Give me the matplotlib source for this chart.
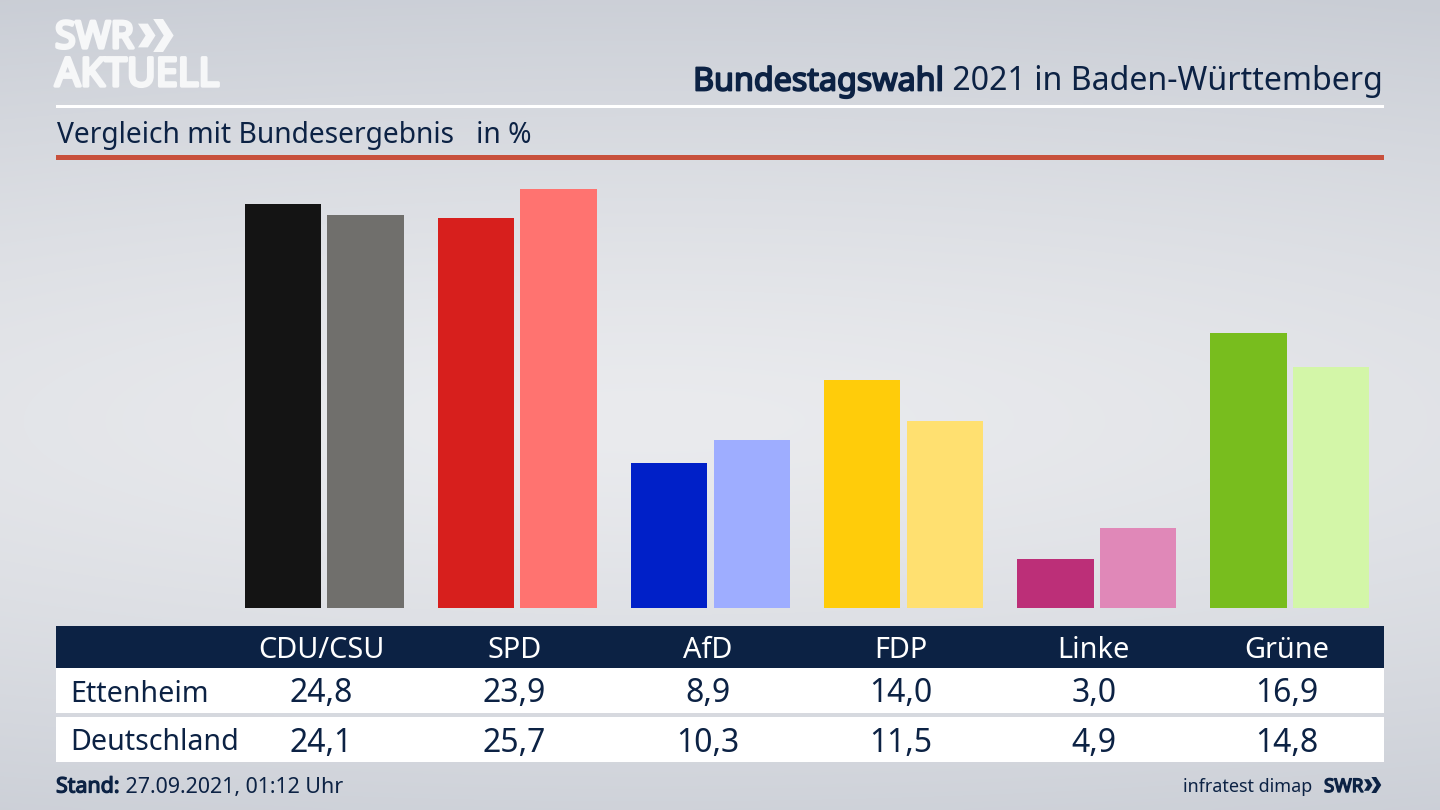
from __future__ import annotations

import numpy as np
import matplotlib
matplotlib.use("Agg")
import matplotlib.pyplot as plt
import matplotlib.patheffects as pe
from matplotlib.patches import Polygon, Rectangle

plt.rcParams["font.family"] = ["Noto Sans", "DejaVu Sans"]

parties = ["CDU/CSU", "SPD", "AfD", "FDP", "Linke", "Grüne"]
ettenheim = [24.8, 23.9, 8.9, 14.0, 3.0, 16.9]
deutschland = [24.1, 25.7, 10.3, 11.5, 4.9, 14.8]
row_names = ["Ettenheim", "Deutschland"]
colors_local = ["#141414", "#d71f1d", "#0020c8", "#ffcc0a", "#bc2f78", "#78bd1e"]
colors_national = ["#706f6c", "#ff7370", "#9eadff", "#ffe070", "#e088b8", "#d3f6a8"]

NAVY = "#0c2244"
LOGO = "#f6f7f8"
W, H = 1440, 810
GROUP_START = 324.3
GROUP_STEP = 193.1
PX_PER_UNIT = 16.3
BASE_Y = 608


def heavy(color, width):
    # the installed Noto Sans has no usable bold here, so thicken with a stroke
    return [pe.withStroke(linewidth=width, foreground=color)]


def draw_background(ax) -> None:
    yy, xx = np.mgrid[0:1:200j, 0:1:356j]
    dist = np.clip(np.sqrt(((xx - 0.45) / 1.5) ** 2 + ((yy - 0.52) / 0.56) ** 2), 0, 1)
    light = np.array([234, 235, 238]) / 255
    dark = np.array([201, 205, 213]) / 255
    img = light + (dark - light) * dist[..., None] ** 1.3
    ax.imshow(img, extent=(0, W, H, 0), aspect="auto", zorder=0, interpolation="bicubic")


def draw_chevrons(ax, x, y, h, color) -> None:
    # double arrow next to the SWR letters, x/y is the top left corner
    t = h * 0.3
    for off, scale in ((0, 0.72), (h * 0.46, 1.0)):
        hh = h * scale
        w = hh * 0.32
        top = y + (h - hh) / 2
        pts = [
            (x + off, top), (x + off + t, top), (x + off + t + w, top + hh / 2),
            (x + off + t, top + hh), (x + off, top + hh), (x + off + w, top + hh / 2),
        ]
        ax.add_patch(Polygon(pts, closed=True, color=color, lw=0, zorder=3))


def draw_frame(ax) -> None:
    ax.add_patch(Rectangle((56, 105), 1328, 2.5, color="white", lw=0, zorder=2))
    ax.add_patch(Rectangle((56, 155), 1328, 5, color="#c8503c", lw=0, zorder=2))

    ax.text(55, 38, "SWR", color=LOGO, fontsize=27, va="center", ha="left", zorder=3,
            path_effects=heavy(LOGO, 2.4))
    draw_chevrons(ax, 138, 19, 33, LOGO)
    ax.text(55, 76, "AKTUELL", color=LOGO, fontsize=28.5, va="center", ha="left", zorder=3,
            path_effects=heavy(LOGO, 2.4))

    title = ax.text(1383, 82, " 2021 in Baden-Württemberg", color=NAVY, fontsize=23.1,
                    va="center", ha="right", zorder=3)
    ax.annotate("Bundestagswahl", xycoords=title, xy=(0, 0.5), color=NAVY, fontsize=23.2,
                va="center", ha="right", zorder=3, path_effects=heavy(NAVY, 1.3))
    ax.text(57, 135, "Vergleich mit Bundesergebnis   in %", color=NAVY, fontsize=20.3,
            va="center", ha="left", zorder=3)

    stand = ax.text(56, 787, "Stand:", color=NAVY, fontsize=15.4, va="center", ha="left",
                    zorder=3, path_effects=heavy(NAVY, 0.9))
    ax.annotate(" 27.09.2021, 01:12 Uhr", xycoords=stand, xy=(1, 0.5), color=NAVY,
                fontsize=15.4, va="center", ha="left", zorder=3)
    ax.text(1312, 787, "infratest dimap", color=NAVY, fontsize=12.9, va="center",
            ha="right", zorder=3)
    ax.text(1324, 787, "SWR", color=NAVY, fontsize=13.5, va="center", ha="left", zorder=3,
            path_effects=heavy(NAVY, 1.0))
    draw_chevrons(ax, 1364, 777, 16, NAVY)


def draw_table(ax) -> None:
    ax.add_patch(Rectangle((56, 626), 1328, 42, color=NAVY, lw=0, zorder=2))
    ax.add_patch(Rectangle((56, 668), 1328, 45, color="white", lw=0, zorder=2))
    ax.add_patch(Rectangle((56, 717), 1328, 45, color="white", lw=0, zorder=2))

    for i, name in enumerate(parties):
        x = GROUP_START - 2.8 + i * GROUP_STEP
        ax.text(x, 650, name, color="white", fontsize=20.8, va="center", ha="center", zorder=3)
        ax.text(x, 694, f"{ettenheim[i]:.1f}".replace(".", ","), color=NAVY, fontsize=23,
                va="center", ha="center", zorder=3)
        ax.text(x, 743, f"{deutschland[i]:.1f}".replace(".", ","), color=NAVY, fontsize=23,
                va="center", ha="center", zorder=3)
    ax.text(70, 694, row_names[0], color=NAVY, fontsize=20.6, va="center", ha="left", zorder=3)
    ax.text(70, 742, row_names[1], color=NAVY, fontsize=20.6, va="center", ha="left", zorder=3)


def draw_bars(fig) -> None:
    # axes covers the full width, one x unit is one party group
    top_px = 165
    ax = fig.add_axes([0, 1 - BASE_Y / H, 1, (BASE_Y - top_px) / H])
    ax.set_xlim(-GROUP_START / GROUP_STEP, (W - GROUP_START) / GROUP_STEP)
    ax.set_ylim(0, (BASE_Y - top_px) / PX_PER_UNIT)
    ax.axis("off")
    ax.patch.set_alpha(0)

    x = np.arange(len(parties))
    bar_w = 76.4 / GROUP_STEP
    offset = 41.3 / GROUP_STEP
    ax.bar(x - offset, ettenheim, width=bar_w, color=colors_local, clip_on=False)
    ax.bar(x + offset, deutschland, width=bar_w, color=colors_national, clip_on=False)


def main() -> None:
    fig = plt.figure(figsize=(W / 100, H / 100), dpi=100)
    bg = fig.add_axes([0, 0, 1, 1])
    bg.axis("off")
    draw_background(bg)
    bg.set_xlim(0, W)
    bg.set_ylim(H, 0)
    draw_frame(bg)
    draw_table(bg)
    draw_bars(fig)
    fig.savefig("out.png", dpi=100)
    plt.close(fig)


if __name__ == "__main__":
    main()
